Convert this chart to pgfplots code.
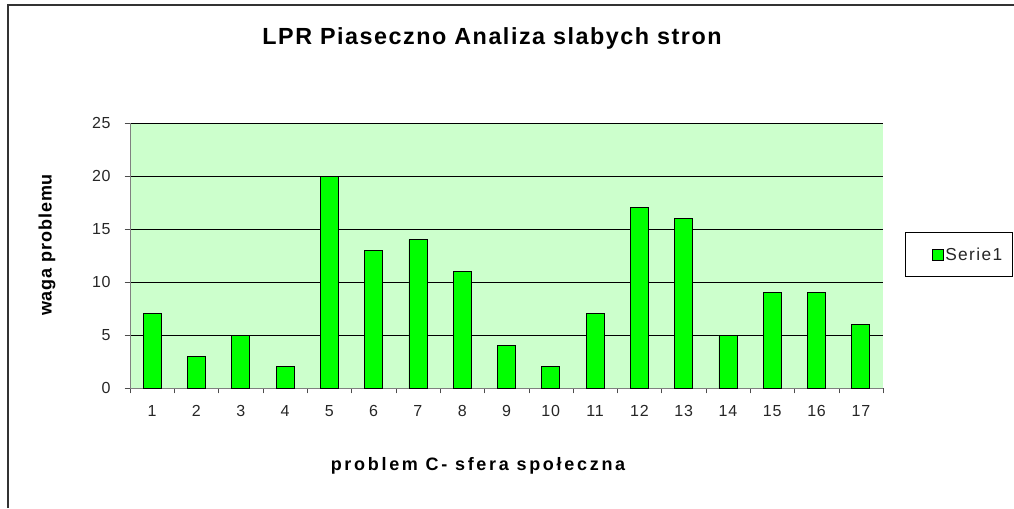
\documentclass[border=0pt]{standalone}
\usepackage{pgfplots}
\pgfplotsset{compat=1.18}
\usepackage{fontspec}
\setmainfont{Liberation Sans}
\newfontfamily\tickf[LetterSpace=5]{Liberation Sans}
\newfontfamily\legf[LetterSpace=8]{Liberation Sans}
\newfontfamily\labf[LetterSpace=15]{Liberation Sans}
\newfontfamily\ylabf[LetterSpace=5]{Liberation Sans}
\newfontfamily\titf[LetterSpace=6.5]{Liberation Sans}
\definecolor{plotbg}{HTML}{CCFFCC}
\definecolor{barg}{HTML}{00FF00}
\begin{document}
\begin{tikzpicture}[x=0.75pt,y=0.75pt]
\path[use as bounding box] (0,0) rectangle (1014,508);
\draw[black!80, line width=0.9pt] (8,0) -- (8,503) -- (1014,503);
\begin{axis}[
  at={(97.5pt,90pt)}, anchor=south west,
  scale only axis, width=564.75pt, height=198.75pt,
  xmin=0.5, xmax=17.5, ymin=0, ymax=25,
  axis background/.style={fill=plotbg},
  axis line style={black!50},
  axis x line*=bottom, axis y line*=left,
  xtick={1,...,17},
  major x tick style={draw=none},
  minor xtick={0.5,1.5,...,17.5},
  minor x tick style={black!70},
  minor tick length=4pt,
  ytick={0,5,...,25},
  major tick length=4pt,
  tick align=outside,
  y tick style={black!70},
  ymajorgrids, grid style={black, line width=0.5pt},
  tick label style={font=\tickf\fontsize{12}{14}\selectfont, text=black!85},
  /pgf/number format/assume math mode=true,
  xticklabel style={yshift=-5.5pt},
  yticklabel style={xshift=-7pt},
  clip=false,
]
\addplot[ybar, bar width=13.5pt, fill=barg, draw=black, line width=0.6pt] coordinates {
(1,7) (2,3) (3,5) (4,2) (5,20) (6,13) (7,14) (8,11) (9,4) (10,2) (11,7) (12,17) (13,16) (14,5) (15,9) (16,9) (17,6)
};
\end{axis}
\node[font=\titf\bfseries\fontsize{17.5}{20}\selectfont] at (492,470) {LPR Piaseczno Analiza slabych stron};
\node[font=\labf\bfseries\fontsize{13.5}{16}\selectfont] at (478,42) {problem C- sfera społeczna};
\node[font=\ylabf\bfseries\fontsize{13.5}{16}\selectfont, rotate=90] at (47,263) {waga problemu};
\draw[black, line width=0.6pt] (905,232) rectangle (1012,276);
\draw[black, line width=0.5pt, fill=barg] (932,248) rectangle (943,259);
\node[anchor=west, inner sep=0pt, font=\legf\fontsize{13}{15}\selectfont, text=black!85] at (945,254) {Serie1};
\end{tikzpicture}
\end{document}
